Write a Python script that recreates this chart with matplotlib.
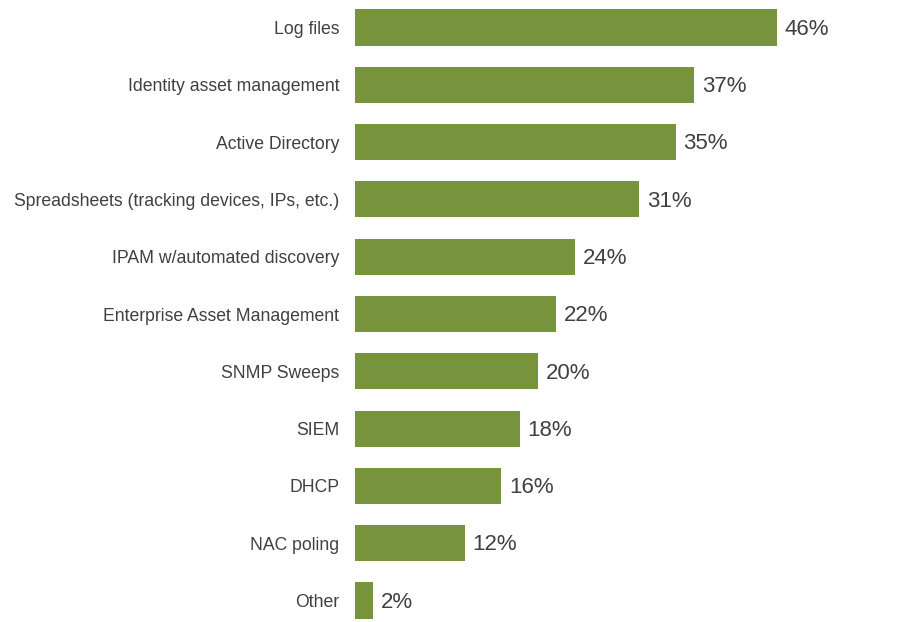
import matplotlib.pyplot as plt

categories = [
    "Log files",
    "Identity asset management",
    "Active Directory",
    "Spreadsheets (tracking devices, IPs, etc.)",
    "IPAM w/automated discovery",
    "Enterprise Asset Management",
    "SNMP Sweeps",
    "SIEM",
    "DHCP",
    "NAC poling",
    "Other",
]
values = [46, 37, 35, 31, 24, 22, 20, 18, 16, 12, 2]

bar_color = "#77933c"
text_color = "#404040"

fig = plt.figure(figsize=(9.07, 6.22), dpi=100)
ax = fig.add_axes([354.5 / 907, 0, 1 - 354.5 / 907, 1])

y = list(range(len(categories)))
ax.barh(y, values, height=0.63, color=bar_color)

for yi, v in zip(y, values):
    ax.text(v + 0.85, yi + 0.03, f"{v}%", va="center", ha="left",
            fontsize=16, color=text_color, family="Liberation Sans")

ax.set_yticks(y)
ax.set_yticklabels(categories, fontsize=12.7, color=text_color, family="Liberation Sans")
ax.tick_params(axis="y", length=0, pad=11)
ax.set_xticks([])
ax.set_xlim(0, 60.2)
ax.set_ylim(10.375, -0.48)
for s in ax.spines.values():
    s.set_visible(False)

fig.savefig("out.png", dpi=100)
